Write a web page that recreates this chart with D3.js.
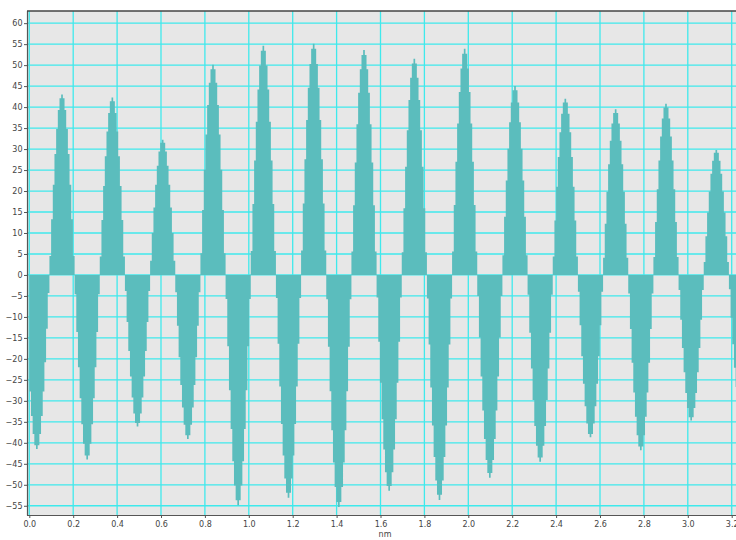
<!DOCTYPE html>
<html>
<head>
<meta charset="utf-8">
<script src="https://cdn.jsdelivr.net/npm/d3@7"></script>
<style>
  html, body { margin: 0; padding: 0; background: #ffffff; }
  svg { display: block; }
  .tick text { font-family: "DejaVu Sans", Verdana, sans-serif; font-size: 8px; fill: #444; }
</style>
</head>
<body>
<svg id="chart" width="736" height="540"></svg>
<script>
// Sampled waveform (amplitude per sample), first sample at 0 nm
const sampleStart = 0;        // nm
const sampleStep = 0.0076433; // nm between samples

const signal = [
  -27.8,-33.6,-37.9,-40.6,-41.5,-40.6,-37.9,-33.6,-27.8,-20.8,-12.8,-4.3,
  4.5,13.3,21.5,28.8,34.8,39.3,42.1,43,42.1,39.3,34.8,28.8,21.5,13.3,4.5,
  -4.6,-13.6,-22,-29.4,-35.6,-40.2,-43,-44,-43,-40.2,-35.6,-29.4,-22,-13.6,-4.6,
  4.4,13.1,21.2,28.3,34.2,38.6,41.4,42.3,41.4,38.6,34.2,28.3,21.2,13.1,4.4,
  -3.8,-11.2,-18.1,-24.2,-29.2,-33,-35.3,-36.1,-35.3,-33,-29.2,-24.2,-18.1,-11.2,-3.8,
  3.4,10,16.1,21.5,26,29.4,31.5,32.2,31.5,29.4,26,21.5,16.1,10,3.4,
  -4.1,-12.1,-19.6,-26.2,-31.6,-35.7,-38.2,-39.1,-38.2,-35.7,-31.6,-26.2,-19.6,-12.1,-4.1,
  5.2,15.5,25.1,33.5,40.5,45.8,49,50.1,49,45.8,40.5,33.5,25.1,15.5,5.2,
  -5.7,-17,-27.5,-36.7,-44.4,-50.2,-53.7,-54.9,-53.7,-50.2,-44.4,-36.7,-27.5,-17,-5.7,
  5.7,16.9,27.3,36.5,44.2,49.9,53.4,54.6,53.4,49.9,44.2,36.5,27.3,16.9,5.7,
  -5.5,-16.4,-26.6,-35.5,-43,-48.5,-51.9,-53.1,-51.9,-48.5,-43,-35.5,-26.6,-16.4,-5.5,
  5.8,17,27.6,36.9,44.6,50.3,53.9,55.1,53.9,50.3,44.6,36.9,27.6,17,5.8,
  -5.8,-17.1,-27.7,-37,-44.7,-50.5,-54.1,-55.3,-54.1,-50.5,-44.7,-37,-27.7,-17.1,-5.8,
  5.6,16.6,26.8,35.9,43.4,49,52.4,53.6,52.4,49,43.4,35.9,26.8,16.6,5.6,
  -5.4,-15.9,-25.7,-34.4,-41.6,-47,-50.3,-51.4,-50.3,-47,-41.6,-34.4,-25.7,-15.9,-5.4,
  5.4,15.9,25.8,34.5,41.7,47,50.4,51.5,50.4,47,41.7,34.5,25.8,15.9,5.4,
  -5.6,-16.6,-26.8,-35.9,-43.4,-49,-52.4,-53.6,-52.4,-49,-43.4,-35.9,-26.8,-16.6,-5.6,
  5.6,16.7,27,36.1,43.6,49.2,52.7,53.9,52.7,49.2,43.6,36.1,27,16.7,5.6,
  -5,-14.9,-24.2,-32.3,-39.1,-44.1,-47.2,-48.3,-47.2,-44.1,-39.1,-32.3,-24.2,-14.9,-5,
  4.7,13.9,22.5,30.1,36.4,41.1,44,45,44,41.1,36.4,30.1,22.5,13.9,4.7,
  -4.7,-13.8,-22.3,-29.8,-36,-40.7,-43.5,-44.5,-43.5,-40.7,-36,-29.8,-22.3,-13.8,-4.7,
  4.4,13,21,28.1,34,38.4,41.1,42,41.1,38.4,34,28.1,21,13,4.4,
  -4,-12,-19.4,-25.9,-31.3,-35.4,-37.9,-38.7,-37.9,-35.4,-31.3,-25.9,-19.4,-12,-4,
  4.1,12.2,19.8,26.4,32,36.1,38.6,39.5,38.6,36.1,32,26.4,19.8,12.2,4.1,
  -4.4,-12.9,-20.9,-28,-33.8,-38.2,-40.9,-41.8,-40.9,-38.2,-33.8,-28,-20.9,-12.9,-4.4,
  4.3,12.6,20.4,27.3,33,37.3,39.9,40.8,39.9,37.3,33,27.3,20.4,12.6,4.3,
  -3.6,-10.7,-17.4,-23.2,-28.1,-31.7,-33.9,-34.7,-33.9,-31.7,-28.1,-23.2,-17.4,-10.7,-3.6,
  3.1,9.2,14.9,19.9,24.1,27.2,29.1,29.8,29.1,27.2,24.1,19.9,14.9,9.2,3.1,
  -3.4,-10.2,-16.5,-22.1,-26.7,-30.1
];

const yTicks = [-55,-50,-45,-40,-35,-30,-25,-20,-15,-10,-5,0,5,10,15,20,25,30,35,40,45,50,55,60];
const xTicks = [0.0,0.2,0.4,0.6,0.8,1.0,1.2,1.4,1.6,1.8,2.0,2.2,2.4,2.6,2.8,3.0,3.2];
const xTitle = "nm";

const W = 736, H = 540;
const plot = { left: 27, top: 11, right: 742, bottom: 515 };

const svg = d3.select("#chart");

const x = d3.scaleLinear().domain([0, 3.2]).range([29.3, 731.7]);
const y = d3.scaleLinear().domain([-57.2, 62.9]).range([plot.bottom, plot.top]);

// plot background
svg.append("rect")
  .attr("x", plot.left).attr("y", plot.top)
  .attr("width", plot.right - plot.left).attr("height", plot.bottom - plot.top)
  .attr("fill", "#e7e7e7");

// grid
const grid = svg.append("g").attr("stroke", "#3fe9ec").attr("stroke-width", 1.3);
grid.selectAll("line.h").data(yTicks).join("line")
  .attr("class", "h")
  .attr("x1", plot.left).attr("x2", plot.right)
  .attr("y1", d => y(d)).attr("y2", d => y(d));
grid.selectAll("line.v").data(xTicks).join("line")
  .attr("class", "v")
  .attr("y1", plot.top).attr("y2", plot.bottom)
  .attr("x1", d => x(d)).attr("x2", d => x(d));

// bars: one step per sample, drawn as a single stepped area so that
// neighbouring bars join without seams
const samples = signal.map((v, i) => ({ t: sampleStart + i * sampleStep, v }));
const last = samples[samples.length - 1];
const stepped = samples.concat([{ t: last.t + sampleStep, v: last.v }]);
const bars = d3.area()
  .curve(d3.curveStepAfter)
  .x(d => x(d.t))
  .y0(y(0))
  .y1(d => y(d.v));
svg.append("path")
  .datum(stepped)
  .attr("fill", "#5bbdbd")
  .attr("d", bars);

// axes
const yAxis = svg.append("g")
  .attr("transform", `translate(${plot.left},0)`)
  .call(d3.axisLeft(y).tickValues(yTicks).tickSize(3).tickPadding(1.5).tickSizeOuter(0));
yAxis.select(".domain").remove();
yAxis.selectAll(".tick line").attr("stroke", "#555");

const xAxis = svg.append("g")
  .attr("transform", `translate(0,${plot.bottom})`)
  .call(d3.axisBottom(x).tickValues(xTicks).tickFormat(d3.format(".1f")).tickSize(3).tickPadding(3).tickSizeOuter(0));
xAxis.select(".domain").remove();
xAxis.selectAll(".tick line").attr("stroke", "#555");

// frame lines
svg.append("line")
  .attr("x1", plot.left + 0.5).attr("x2", plot.left + 0.5)
  .attr("y1", plot.top).attr("y2", plot.bottom + 0.5)
  .attr("stroke", "#555").attr("stroke-width", 1.2);
svg.append("line")
  .attr("x1", plot.left).attr("x2", W)
  .attr("y1", plot.bottom + 0.5).attr("y2", plot.bottom + 0.5)
  .attr("stroke", "#555").attr("stroke-width", 1.2);
svg.append("line")
  .attr("x1", plot.left).attr("x2", W)
  .attr("y1", plot.top).attr("y2", plot.top)
  .attr("stroke", "#444").attr("stroke-width", 1.5);

svg.append("text")
  .attr("x", 385).attr("y", 537)
  .attr("text-anchor", "middle")
  .attr("font-family", "DejaVu Sans, Verdana, sans-serif")
  .attr("font-size", 8)
  .attr("fill", "#444")
  .text(xTitle);
</script>
</body>
</html>
